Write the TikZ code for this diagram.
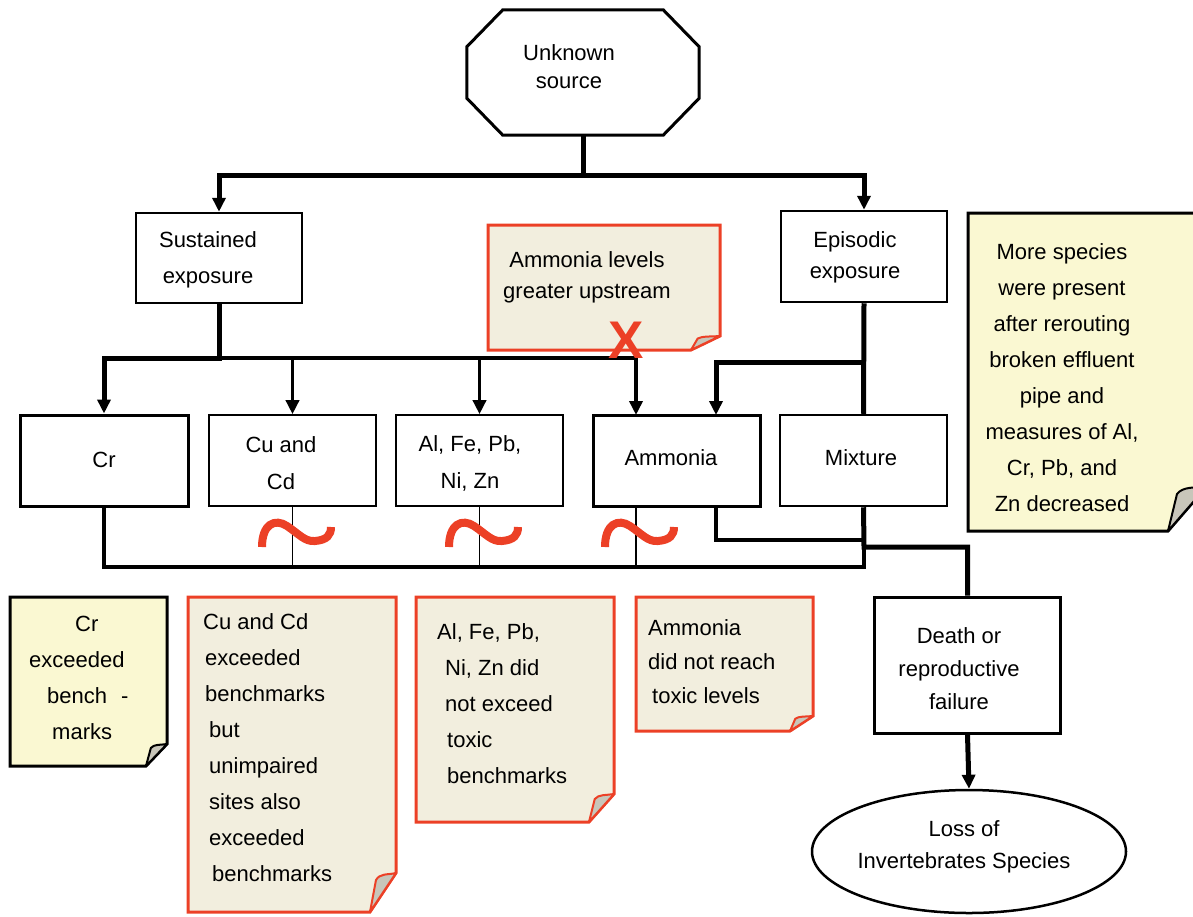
\documentclass[tikz,border=0pt]{standalone}
\usepackage{fontspec}
\setmainfont{Liberation Sans}
\usetikzlibrary{arrows.meta,shapes.misc,shapes.geometric}
\definecolor{nred}{RGB}{236,64,38}
\definecolor{nbeige}{RGB}{242,238,222}
\definecolor{nyellow}{RGB}{250,248,210}
\definecolor{nflap}{RGB}{200,198,186}
% #1 L, #2 T, #3 R, #4 B, #5 fx, #6 fy, #7 fill, #8 draw
\newcommand\foldnote[8]{%
  \draw[line width=3pt, fill=#7, draw=#8] (#1,#2) -- (#3,#2) -- (#3,#4-#6) -- (#3-#5,#4) -- (#1,#4) -- cycle;
  \draw[line width=2pt, fill=nflap, draw=#8, line join=round] (#3-#5,#4) -- (#3-0.77*#5,#4-0.82*#6)
     .. controls (#3-0.62*#5,#4-1.0*#6) and (#3-0.3*#5,#4-0.95*#6) .. (#3,#4-#6) -- cycle;
}
\newcommand\tildemark[1]{%
  \draw[nred, line width=8pt] (#1-33,547) .. controls (#1-33,524) and (#1-20,518) .. (#1-8,526)
     .. controls (#1+4,534) and (#1+10,542) .. (#1+20,541)
     .. controls (#1+32,540) and (#1+36,535) .. (#1+36,527);
}
\tikzset{
  txt/.style={font=\fontsize{22}{#1}\selectfont, align=center, inner sep=0pt},
  txt/.default=36,
  txtl/.style={font=\fontsize{22}{#1}\selectfont, align=left, inner sep=0pt},
  txtl/.default=36,
  box/.style={draw, line width=#1, inner sep=0pt, minimum width=167pt, minimum height=91pt},
  arr/.style={-{Triangle[length=14pt,width=13pt]}},
  w5/.style={line width=5pt},
  w4/.style={line width=4pt},
  w3/.style={line width=3.5pt},
  w1/.style={line width=1.6pt},
}
\begin{document}
\begin{tikzpicture}[x=1pt,y=-1pt]
\useasboundingbox (0,0) rectangle (1193,916);

% ---------- notes ----------
\foldnote{488}{225}{720}{350}{29}{14}{nbeige}{nred}
\foldnote{968}{213}{1207}{531}{39}{45}{nyellow}{black}
\foldnote{10}{597}{167}{766}{21}{22}{nyellow}{black}
\foldnote{188}{597}{396}{912}{26}{39}{nbeige}{nred}
\foldnote{416}{597}{614}{822}{25}{28}{nbeige}{nred}
\foldnote{636}{597}{813}{731}{23}{15}{nbeige}{nred}

% ---------- boxes ----------
\node[inner sep=0pt, minimum width=232pt, minimum height=125pt] (src) at (583,72.5) {};
\draw[line width=3pt, line join=miter]
  ([xshift=36pt]src.north west) -- ([xshift=-36pt]src.north east)
  -- ([yshift=-37pt]src.north east) -- ([yshift=37pt]src.south east)
  -- ([xshift=-36pt]src.south east) -- ([xshift=36pt]src.south west)
  -- ([yshift=37pt]src.south west) -- ([yshift=-37pt]src.north west) -- cycle;
\node[box=2.5pt, minimum width=166pt, minimum height=90pt] (sus) at (219,258) {};
\node[box=2.5pt, minimum width=166pt] (epi) at (864,256.5) {};
\node[box=3pt, minimum width=168pt] (cr) at (104,460.5) {};
\node[box=1.6pt] (cu) at (292.5,460.5) {};
\node[box=1.6pt] (al) at (479.5,460.5) {};
\node[box=3pt] (amm) at (676.5,460.5) {};
\node[box=2.5pt] (mix) at (863.5,460.5) {};
\node[draw, line width=3pt, inner sep=0pt, minimum width=186pt, minimum height=136pt] (death) at (967.5,665) {};
\node[draw, ellipse, line width=2.5pt, inner sep=0pt, minimum width=314pt, minimum height=123pt] (ell) at (969,851.5) {};

% ---------- connectors ----------
\path (src.south) ++(0,40) coordinate (j1);
\draw[w5] (src.south) -- (j1);
\draw[w5,arr] (j1) -| (sus.north);
\draw[w5,arr] (j1) -| (epi.north);

\coordinate (j2) at (219,358);
\coordinate (ammin) at (636,415);
\coordinate (ammr) at (716,415);
\draw[w5,arr] (sus.south) -- (j2) -| (cr.north);
\draw[w3,arr] (j2) -| (ammin);
\draw[w3,arr] (j2 -| cu.north) -- (cu.north);
\draw[w3,arr] (j2 -| al.north) -- (al.north);

\coordinate (j3) at (864,362);
\draw[w5] (epi.south) -- (mix.north);
\draw[w5,arr] (j3) -| (ammr);

% bottom collector
\coordinate (j4) at (864,567);
\coordinate (ammbl) at (636,506);
\coordinate (ammbr) at (716,506);
\coordinate (j5) at (864,540);
\coordinate (j6) at (864,547);
\draw[w3] (cr.south) |- (j4) -- (j6);
\draw[w1] (cu.south) -- (cu.south |- j4);
\draw[w1] (al.south) -- (al.south |- j4);
\draw[w1] (ammbl) -- (ammbl |- j4);
\draw[w4] (ammbr) |- (j5);
\draw[w5] (mix.south) -- (j6) -| (death.north);
\draw[w5,arr] (death.south) -- (ell.north);

% ---------- marks ----------
\tildemark{295}
\tildemark{482}
\tildemark{638}
\node[text=nred, inner sep=0pt, font=\fontsize{53}{53}\selectfont\bfseries] (xmark) at (626,340) {X};

% ---------- texts ----------
\node[txt=28] (src-t) at (569,67) {Unknown\\source};
\node[txt=36] (sus-t) at (208,260) {Sustained\\exposure};
\node[txt=31] (epi-t) at (855,257) {Episodic\\exposure};
\node[txt=31] (amlev-t) at (587,277) {Ammonia levels\\greater upstream};
\node[txt] (cr-t) at (104,460) {Cr};
\node[txt=37] (cu-t) at (281,463) {Cu and\\Cd};
\node[txt=37] (al-t) at (470,463) {Al, Fe, Pb,\\Ni, Zn};
\node[txt] (amm-t) at (671,458) {Ammonia};
\node[txt] (mix-t) at (861,458) {Mixture};
\node[txt=36] (more-t) at (1062,378) {More species\\were present\\after rerouting\\broken effluent\\pipe and\\measures of Al,\\Cr, Pb, and\\Zn decreased};
\node[txtl=36, anchor=west] (crn-t) at (29,678) {\hspace*{46pt}Cr\\exceeded\\\hspace*{18pt}bench\hspace{14pt}-\\\hspace*{23pt}marks};
\node[txtl=36, anchor=west] (cun-t) at (203,748) {Cu and Cd\\\hspace*{2pt}exceeded\\\hspace*{2pt}benchmarks\\\hspace*{6pt}but\\\hspace*{6pt}unimpaired\\\hspace*{6pt}sites also\\\hspace*{6pt}exceeded\\\hspace*{9pt}benchmarks};
\node[txtl=36, anchor=west] (aln-t) at (437,704) {Al, Fe, Pb,\\\hspace*{8pt}Ni, Zn did\\\hspace*{8pt}not exceed\\\hspace*{10pt}toxic\\\hspace*{10pt}benchmarks};
\node[txtl=34, anchor=west] (amn-t) at (648,662) {Ammonia\\did not reach\\\hspace*{4pt}toxic levels};
\node[txt=33] (death-t) at (959,669) {Death or\\reproductive\\failure};
\node[txt=32] (ell-t) at (964,847) {Loss of\\Invertebrates Species};
\end{tikzpicture}
\end{document}
